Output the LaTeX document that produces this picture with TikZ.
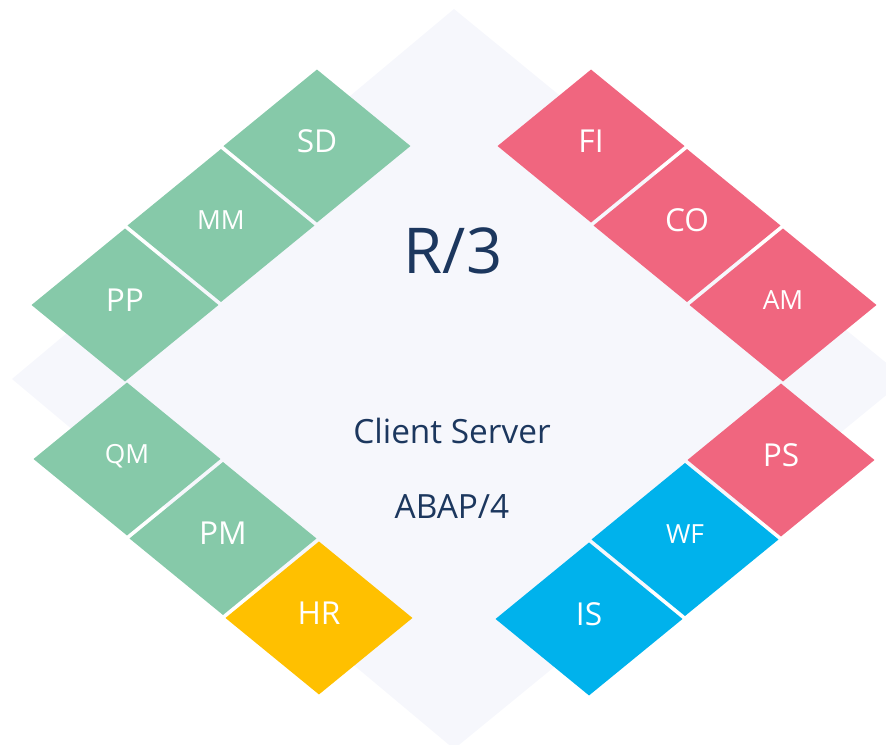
\documentclass[tikz,border=0pt]{standalone}
\usepackage{fontspec}
\setmainfont{Open Sans}
\usetikzlibrary{shapes.geometric, positioning}
\definecolor{modGreen}{HTML}{86C9A9}
\definecolor{modRed}{HTML}{F0667F}
\definecolor{modYellow}{HTML}{FFC000}
\definecolor{modBlue}{HTML}{00B2EC}
\definecolor{baseFill}{HTML}{F6F7FC}
\definecolor{titleNavy}{HTML}{1C375E}

\begin{document}
\begin{tikzpicture}[
    x=0.02cm, y=0.02cm,
    tile/.style={diamond, fill=#1, inner sep=0pt, outer sep=0pt,
                 minimum width=3.74cm, minimum height=3.06cm, text depth=2mm,
                 text=white, font=\fontsize{18}{18}\selectfont},
    smalltile/.style={tile=#1, font=\fontsize{15}{15}\selectfont},
    centertext/.style={anchor=base, text=titleNavy, inner sep=0pt,
                       font=\fontsize{19}{19}\selectfont}
  ]
    \clip (-454,-362) rectangle (432,382);

    % base plate
    \fill[baseFill] (0,373) -- (452,3) -- (0,-367) -- (-442,3) -- cycle;

    % upper left
    \node[tile=modGreen] (pp) at (-329,77) {PP};
    \node[smalltile=modGreen, anchor=south west] (mm) at ([shift={(2.5,3)}]pp.north east) {MM};
    \node[tile=modGreen, anchor=south west] (sd) at ([shift={(2.5,3)}]mm.north east) {SD};

    % upper right
    \node[smalltile=modRed] (am) at (329,77) {AM};
    \node[tile=modRed, anchor=south east] (co) at ([shift={(-2.5,3)}]am.north west) {CO};
    \node[tile=modRed, anchor=south east] (fi) at ([shift={(-2.5,3)}]co.north west) {FI};

    % lower left
    \node[smalltile=modGreen] (qm) at (-327,-77) {QM};
    \node[tile=modGreen, anchor=north west] (pm) at ([shift={(2.5,-3)}]qm.south east) {PM};
    \node[tile=modYellow, anchor=north west] (hr) at ([shift={(2.5,-3)}]pm.south east) {HR};

    % lower right
    \node[tile=modRed] (ps) at (327,-78) {PS};
    \node[smalltile=modBlue, anchor=north east] (wf) at ([shift={(-2.5,-3)}]ps.south west) {WF};
    \node[tile=modBlue, anchor=north east] (is) at ([shift={(-2.5,-3)}]wf.south west) {IS};

    \node[centertext, font=\fontsize{36}{36}\selectfont] (title) at (-1,109) {R/3};
    \node[centertext] (arch) at (-2,-61) {Client Server};
    \node[centertext] (lang) at (-2,-136) {ABAP/4};
  \end{tikzpicture}
\end{document}
